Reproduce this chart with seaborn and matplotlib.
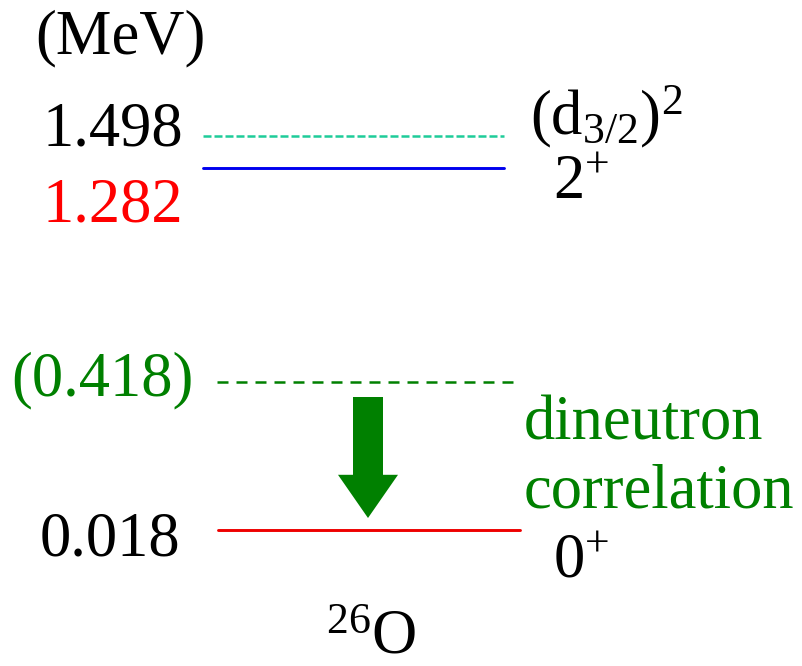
import matplotlib
matplotlib.use("Agg")
import matplotlib.pyplot as plt
import seaborn as sns

sns.set_theme(style="white")
plt.rcParams['font.family'] = ['Liberation Serif', 'DejaVu Serif']
plt.rcParams['mathtext.fontset'] = 'custom'
plt.rcParams['mathtext.rm'] = 'Liberation Serif'
plt.rcParams['mathtext.it'] = 'Liberation Serif:italic'
plt.rcParams['text.color'] = 'black'

# Data
energies = [1.498, 1.282, 0.418, 0.018]
energy_labels = ["1.498", "1.282", "(0.418)", "0.018"]
label_colors = ["black", "red", "green", "black"]
line_colors = ["#1ecc99", "#0000ee", "#008000", "#ee0000"]
line_styles = ["--", "-", "--", "-"]
state_labels = [r"(d$_{3/2}$)$^2$", r"2$^{+}$", "", r"0$^{+}$"]
nucleus = r"$^{26}$O"

# Layout (pixel coordinates of the drawing, not the data)
W, H = 803, 666
level_y = [136, 168, 382, 530]
level_x = [(203, 504), (203, 504), (217, 513), (218, 520)]
level_dash = [(3.2, 1.2), None, (4.4, 3.2), None]
label_xy = [(183, 130), (183, 206), (194, 380), (180, 540)]

fig = plt.figure(figsize=(8.03, 6.66), dpi=100)
ax = fig.add_axes([0, 0, 1, 1])
ax.set_xlim(0, W)
ax.set_ylim(H, 0)
ax.axis("off")

fs = 45
for e, lab, lc, c, ls, d, y, (x0, x1), (lx, ly) in zip(
        energies, energy_labels, label_colors, line_colors, line_styles,
        level_dash, level_y, level_x, label_xy):
    kw = dict(dashes=d) if d else {}
    ax.plot([x0, x1], [y, y], color=c, linestyle=ls,
            linewidth=2.1 if ls == "-" else 1.8, **kw)
    ax.text(lx, ly, lab, color=lc, fontsize=fs, ha="right", va="center")

ax.text(35, 38, "(MeV)", fontsize=fs, ha="left", va="center", color="black")
ax.text(530, 117, state_labels[0], fontsize=fs, ha="left", va="center", color="black")
ax.text(553, 184, state_labels[1], fontsize=fs, ha="left", va="center", color="black")
ax.text(553, 562, state_labels[3], fontsize=fs, ha="left", va="center", color="black")
ax.text(524, 424, "dineutron", fontsize=fs, ha="left", va="center", color="green")
ax.text(524, 493, "correlation", fontsize=fs, ha="left", va="center", color="green")
ax.text(326, 638, nucleus, fontsize=fs, ha="left", va="center", color="black")

# Arrow from 0.418 toward 0.018
ax.annotate("", xy=(368, 518), xytext=(368, 397),
            arrowprops=dict(arrowstyle="simple,head_length=1.44,head_width=2.0,tail_width=1.0",
                            mutation_scale=21.6, color="green", shrinkA=0, shrinkB=0,
                            lw=0))

fig.savefig("out.png", dpi=100)
